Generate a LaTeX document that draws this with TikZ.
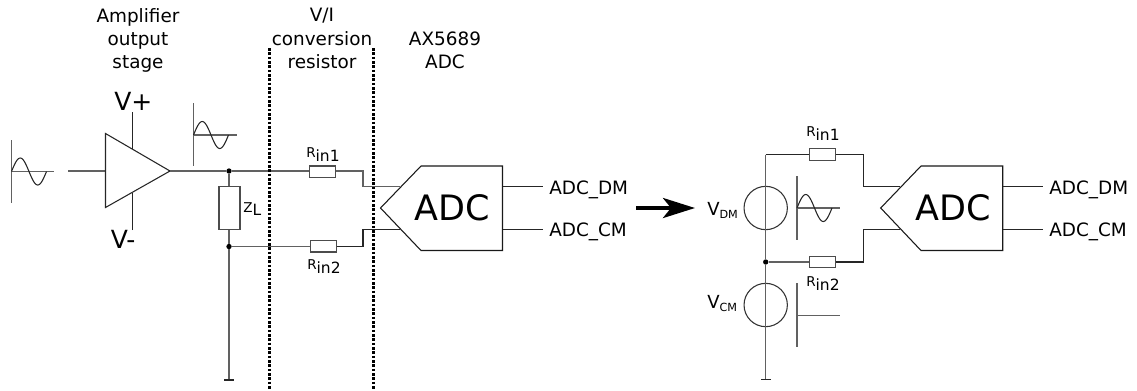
\documentclass[tikz,border=0pt]{standalone}
\usepackage{fontspec}
\setmainfont{DejaVu Sans}
\usetikzlibrary{arrows.meta}
\newcommand{\pxfont}[1]{\fontsize{\dimexpr#1pt*3/4\relax}{\dimexpr#1pt*9/10\relax}\selectfont}
\tikzset{
 x=0.75pt,y=-0.75pt,
 wire/.style={line width=0.8pt,draw=black!85},
 wirex/.style={line width=1pt,draw=black!62},
 res/.style={draw=black!70,line width=0.9pt,fill=white,minimum width=19.6pt,minimum height=8.6pt,inner sep=0pt},
 zres/.style={draw=black!70,line width=0.9pt,fill=white,minimum width=15.7pt,minimum height=32.6pt,inner sep=0pt},
 src/.style={circle,draw=black!80,line width=0.8pt,minimum size=32.5pt,inner sep=0pt},
 dot/.style={circle,fill=black,minimum size=4pt,inner sep=0pt},
 title/.style={align=center,inner sep=0pt,anchor=north,font=\fontsize{13.8pt}{17.5pt}\selectfont},
 sig/.style={anchor=base west,inner sep=0pt,font=\pxfont{18.4}},
 big/.style={inner sep=0pt,anchor=base,font=\pxfont{35}},
 rail/.style={inner sep=0pt,anchor=base west,font=\pxfont{25}},
 lab/.style={inner sep=0pt,anchor=base west},
 dots/.style={line width=2.4pt,black,dash pattern=on 1.9pt off 1.35pt},
 adcbody/.style={draw=black!90,line width=0.8pt,fill=white},
 sinew/.style={line width=0.9pt,draw=black!62},
 wavew/.style={line width=0.8pt,draw=black!85},
}
\newcommand{\sinewave}[2]{% x0, y0
 \draw[wavew] plot[domain=0:360,samples=49,smooth] ({#1+\x*35/360},{#2-13.5*sin(\x)});
}
\newcommand{\rlab}[1]{{\pxfont{13.5}R}\raisebox{-3pt}{\pxfont{15.5}in#1}}
\newcommand{\vlab}[1]{{\pxfont{18}V}\raisebox{-2.4pt}{\pxfont{11.2}#1}}
\begin{document}
\begin{tikzpicture}
\useasboundingbox (0,0) rectangle (1137,390);
% titles
\node[title] (t1) at (138,8) {Amplifier\\output\\stage};
\node[title] (t2) at (322,8) {V/I\\conversion\\resistor};
\node[title] (t3) at (445,31.5) {AX5689\\ADC};
% dotted boundaries
\coordinate (d1a) at (269.5,48); \coordinate (d1b) at (269.5,390);
\coordinate (d2a) at (373.5,48); \coordinate (d2b) at (373.5,390);
% left circuit
\coordinate (in0) at (68,171);
\coordinate (trA) at (105.5,133.5); \coordinate (trB) at (105.5,207.5); \coordinate (trC) at (170,171);
\coordinate (inT) at (105.5,171);
\coordinate (vp) at (132.5,112); \coordinate (vpe) at (132.5,149);
\coordinate (vm) at (132.5,230); \coordinate (vme) at (132.5,192.5);
\draw[wirex] (in0) -- (inT);
\draw[wire] (vp) -- (vpe);
\draw[wire] (vm) -- (vme);
\draw[wire,line join=miter] (trA) -- (trC) -- (trB) -- cycle;
\node[dot] (j1) at (229,171) {};
\node[dot] (j2) at (229,246.5) {};
\node[res] (r1) at (322.7,171.8) {};
\node[res] (r2) at (323.2,246.3) {};
\node[zres] (zl) at (229.5,208) {};
\coordinate (gnd1) at (229,380);
\coordinate (g1a) at (224,380); \coordinate (g1b) at (234,380);
\coordinate (k1) at (363,171); \coordinate (k1b) at (363,186.5); \coordinate (a1i) at (400,186.5);
\coordinate (k2) at (363,246.5); \coordinate (k2b) at (363,229.5); \coordinate (a1j) at (400,229.5);
\draw[wirex] (trC) -- (j1) -- (r1.west |- j1);
\draw[wirex] (r1.east |- k1) -- (k1) -- (k1b) -- (a1i);
\draw[wirex] (j2) -- (r2.west |- j2);
\draw[wire] (r2.east |- k2) -- (k2) -- (k2b) -- (a1j);
\draw[wirex] (j1) -- (zl.north -| j1);
\draw[wirex] (zl.south -| j1) -- (j2) -- (gnd1);
\draw[wire] (g1a) -- (g1b);
% dotted on top of wires
\draw[dots] (d1a) -- (d1b);
\draw[dots] (d2a) -- (d2b);
% ADC 1
\draw[adcbody] (380.5,208) -- (421,166) -- (502.5,166) -- (502.5,250.5) -- (421,250.5) -- cycle;
\node[big] (adc1) at (452.5,220.5) {ADC};
\coordinate (o1a) at (502.5,186.5); \coordinate (o1b) at (502.5,229.5);
\node[sig] (dm1) at (549,194) {ADC\_DM};
\node[sig] (cm1) at (549,236) {ADC\_CM};
\draw[wire] (o1a) -- (543,186.5);
\draw[wire] (o1b) -- (543,229.5);
% rail labels
\node[rail] (vplus) at (114,110) {V+};
\node[rail] (vminus) at (110.5,248.3) {V-};
% ZL, Rin labels
\node[lab] (zlab) at (243,212) {{\pxfont{13.5}Z}\raisebox{-2.25pt}{\pxfont{15.5}L}};
\node[lab] (ra) at (306,157) {\rlab{1}};
\node[lab] (rb) at (307,269.5) {\rlab{2}};
% signals
\draw[sinew] (11.5,140) -- (11.5,203);
\draw[sinew] (11.5,171.5) -- (54,171.5);
\sinewave{11.5}{171.5}
\draw[sinew] (193.5,103) -- (193.5,166);
\draw[sinew] (193.5,135) -- (237,135);
\sinewave{193.5}{135}
% main arrow
\coordinate (arA) at (636,208); \coordinate (arB) at (695,208);
\draw[line width=3pt,-{Stealth[length=24pt,width=15pt,inset=6pt]}] (arA) -- (arB);
% right circuit
\node[src] (vdm) at (765.7,208) {};
\node[src] (vcm) at (765.7,305) {};
\node[res] (r3) at (822.3,154.5) {};
\node[res] (r4) at (822.3,262) {};
\node[dot] (j3) at (765.7,262) {};
\coordinate (tl) at (765.7,154.5);
\coordinate (k3) at (863.7,154.5); \coordinate (k3b) at (863.7,186.5); \coordinate (a2i) at (900,186.5);
\coordinate (k4) at (863.7,262); \coordinate (k4b) at (863.7,229.5); \coordinate (a2j) at (900,229.5);
\coordinate (gnd2) at (765.7,379.5);
\coordinate (g2a) at (761,379.5); \coordinate (g2b) at (771,379.5);
\draw[wirex] (tl) -- (vdm.north) -- (vdm.south) -- (j3) -- (vcm.north) -- (vcm.south) -- (gnd2);
\draw[wire] (tl) -- (r3.west |- tl);
\draw[wire] (g2a) -- (g2b);
\draw[wire] (r3.east |- k3) -- (k3) -- (k3b) -- (a2i);
\draw[wirex] (j3) -- (r4.west |- j3);
\draw[wire] (r4.east |- k4) -- (k4) -- (k4b) -- (a2j);
\draw[adcbody] (880.7,208) -- (921,166) -- (1002.7,166) -- (1002.7,250.5) -- (921,250.5) -- cycle;
\node[big] (adc2) at (953.2,220.5) {ADC};
\node[sig] (dm2) at (1049,194) {ADC\_DM};
\node[sig] (cm2) at (1049,236) {ADC\_CM};
\draw[wire] (1002.7,186.5) -- (1043,186.5);
\draw[wire] (1002.7,229.5) -- (1043,229.5);
\node[lab] (rc) at (806,136) {\rlab{1}};
\node[lab] (rd) at (806,286.7) {\rlab{2}};
\node[lab] (vdl) at (707,215) {\vlab{DM}};
\node[lab] (vcl) at (707,308) {\vlab{CM}};
\draw[sinew] (797,176) -- (797,240);
\draw[sinew] (797,208) -- (840,208);
\sinewave{797}{208}
\draw[sinew] (797,283) -- (797,347);
\draw[sinew] (797,315.5) -- (840,315.5);
\end{tikzpicture}
\end{document}
